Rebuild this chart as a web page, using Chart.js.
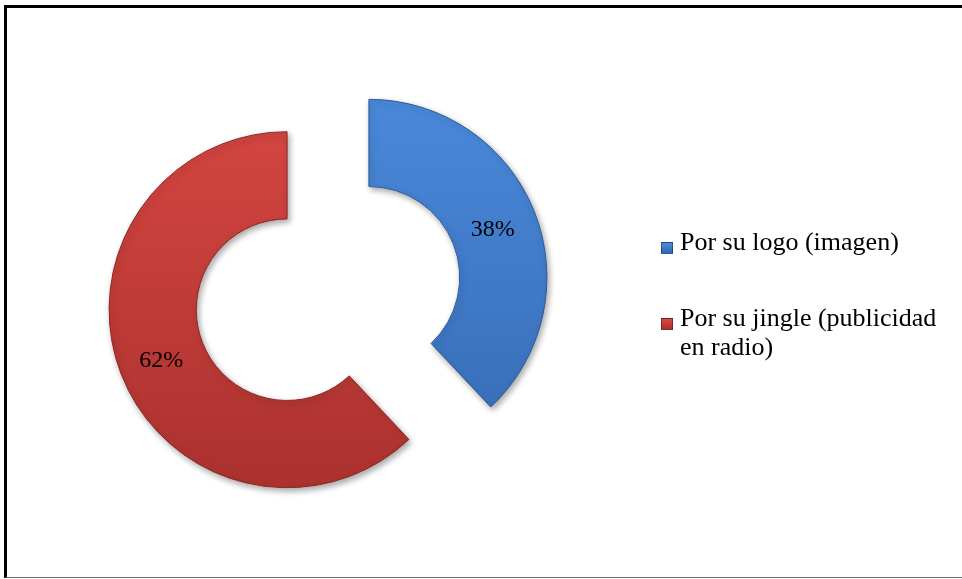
<!DOCTYPE html>
<html>
<head>
<meta charset="utf-8">
<script src="https://cdn.jsdelivr.net/npm/chart.js@4/dist/chart.umd.min.js"></script>
<style>
	html, body {
		margin: 0;
		padding: 0;
		background: #ffffff;
	}
	.panel {
		position: relative;
		width: 962px;
		height: 579px;
		overflow: hidden;
	}
	.panel .frame {
		position: absolute;
		left: 4px;
		top: 5px;
		width: 970px;
		height: 569px;
		border-top: 3px solid #000000;
		border-left: 3px solid #000000;
		border-bottom: 1px solid #6e6e6e;
	}
	.panel canvas {
		position: absolute;
		left: 0;
		top: 0;
	}
	.legend {
		position: absolute;
		left: 661px;
		top: 227px;
		width: 300px;
		font-family: "Liberation Serif", "Times New Roman", serif;
		font-size: 26px;
		line-height: 29px;
		color: #000000;
	}
	.legend .item {
		position: relative;
		padding-left: 19px;
		margin-bottom: 47px;
	}
	.legend .box {
		position: absolute;
		left: 0;
		top: 15px;
		width: 12px;
		height: 12px;
		box-sizing: border-box;
		border: 1px solid rgba(0, 0, 0, 0.35);
	}
</style>
</head>
<body>
<div class="panel">
	<div class="frame"></div>
	<canvas id="chart" width="962" height="579"></canvas>
	<div class="legend" id="legend"></div>
</div>

<script>
const labels = ['Por su logo (imagen)', 'Por su jingle (publicidad en radio)'];
const legendLines = [['Por su logo (imagen)'], ['Por su jingle (publicidad', 'en radio)']];
const values = [38, 62];
const valueLabels = ['38%', '62%'];

const colorsTop = ['#4a8bdc', '#d94843'];
const colorsBottom = ['#3567b0', '#a8302d'];
const colorsEdge = ['#2d5a9a', '#8e2825'];
const explode = 44;


function fill(context) {
	const area = context.chart.chartArea;
	if(!area) {
		return colorsTop[context.dataIndex];
	}
	const ctx = context.chart.ctx;
	const grad = ctx.createLinearGradient(0, area.top - 40, 0, area.bottom + 40);
	grad.addColorStop(0, colorsTop[context.dataIndex]);
	grad.addColorStop(1, colorsBottom[context.dataIndex]);
	return grad;
}


// pushes every slice outward along its middle angle
const explodePlugin = {
	id: 'explode',
	afterDatasetUpdate(chart, args) {
		args.meta.data.forEach(function(arc) {
			const mid = (arc.startAngle + arc.endAngle) / 2;
			arc.x += Math.cos(mid) * explode;
			arc.y += Math.sin(mid) * explode;
		});
	}
};


// soft drop shadow under the ring
const shadowPlugin = {
	id: 'shadow',
	beforeDatasetsDraw(chart) {
		const ctx = chart.ctx;
		ctx.save();
		ctx.shadowColor = 'rgba(0, 0, 0, 0.35)';
		ctx.shadowBlur = 6;
		ctx.shadowOffsetX = 2;
		ctx.shadowOffsetY = 3;
	},
	afterDatasetsDraw(chart) {
		chart.ctx.restore();
	}
};


// percentage text in the middle of each slice
const valuePlugin = {
	id: 'values',
	afterDraw(chart) {
		const ctx = chart.ctx;
		const meta = chart.getDatasetMeta(0);
		ctx.save();
		ctx.font = '24px "Liberation Serif", "Times New Roman", serif';
		ctx.fillStyle = '#000000';
		ctx.textAlign = 'center';
		ctx.textBaseline = 'middle';
		meta.data.forEach(function(arc, i) {
			const mid = (arc.startAngle + arc.endAngle) / 2;
			const r = (arc.innerRadius + arc.outerRadius) / 2;
			ctx.fillText(valueLabels[i], arc.x + Math.cos(mid) * r - 1, arc.y + Math.sin(mid) * r + 2);
		});
		ctx.restore();
	}
};


const ctx = document.getElementById('chart').getContext('2d');

new Chart(ctx, {
	type: 'doughnut',
	data: {
		labels: labels,
		datasets: [{
			data: values,
			backgroundColor: fill,
			borderColor: colorsEdge,
			borderWidth: 1
		}]
	},
	options: {
		responsive: false,
		animation: false,
		events: [],
		cutout: '51%',
		layout: {
			padding: {left: 149, right: 455, top: 115, bottom: 107}
		},
		plugins: {
			legend: {display: false},
			tooltip: {enabled: false}
		}
	},
	plugins: [explodePlugin, shadowPlugin, valuePlugin]
});


const legend = document.getElementById('legend');
legendLines.forEach(function(lines, i) {
	const item = document.createElement('div');
	item.className = 'item';
	const box = document.createElement('span');
	box.className = 'box';
	box.style.background = 'linear-gradient(' + colorsTop[i] + ', ' + colorsBottom[i] + ')';
	item.appendChild(box);
	lines.forEach(function(line, n) {
		if(n > 0) {
			item.appendChild(document.createElement('br'));
		}
		item.appendChild(document.createTextNode(line));
	});
	legend.appendChild(item);
});
</script>
</body>
</html>
